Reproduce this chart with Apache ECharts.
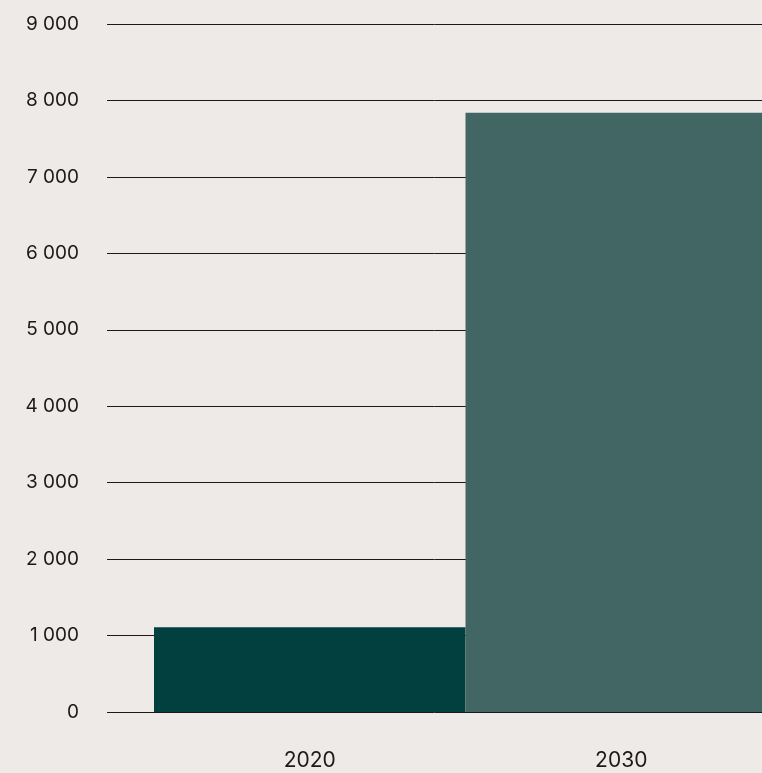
<!DOCTYPE html>
<html>
<head>
<meta charset="utf-8">
<script src="https://cdn.jsdelivr.net/npm/echarts@6/dist/echarts.min.js"></script>
<style>
    html, body { margin: 0; padding: 0; background: #eeeae8; overflow: hidden; }
    /* the chart is a bit wider than the window so the 2030 bar gets cut at the edge */
    #chart { width: 777px; height: 773px; }
</style>
</head>
<body>
<div id="chart"></div>
<script>
    let years = ['2020', '2030'];
    let values = [1110, 7840];
    let barColors = ['#02403f', '#426663'];
    let yMax = 9000;
    let yStep = 1000;

    let myChart = echarts.init(document.getElementById('chart'));

    let fmt = function (v) {
        return String(v).replace(/\B(?=(\d{3})+(?!\d))/g, ' ');
    };

    let option = {
        backgroundColor: '#eeeae8',
        animation: false,
        textStyle: { fontFamily: 'Inter' },
        grid: [
            { left: 107, right: 15, top: 24, bottom: 61 },
            { left: 154, right: 0, top: 24, bottom: 61 }
        ],
        xAxis: [{
            gridIndex: 0,
            type: 'category',
            data: years,
            show: false
        }, {
            gridIndex: 1,
            type: 'category',
            data: years,
            axisLine: { show: false },
            axisTick: { show: false },
            axisLabel: {
                color: '#1a1a1a',
                fontSize: 21,
                margin: 38
            }
        }],
        yAxis: [{
            gridIndex: 0,
            type: 'value',
            min: 0,
            max: yMax,
            interval: yStep,
            axisLine: { show: false },
            axisTick: { show: false },
            axisLabel: {
                color: '#1a1a1a',
                fontSize: 19,
                margin: 28,
                formatter: fmt
            },
            splitLine: {
                lineStyle: { color: '#1a1a1a', width: 1 }
            }
        }, {
            gridIndex: 1,
            type: 'value',
            min: 0,
            max: yMax,
            interval: yStep,
            show: false,
            splitLine: { show: false }
        }],
        series: [{
            type: 'bar',
            xAxisIndex: 1,
            yAxisIndex: 1,
            barWidth: '100%',
            data: values.map(function (v, i) {
                return { value: v, itemStyle: { color: barColors[i] } };
            })
        }]
    };
    myChart.setOption(option);
</script>
</body>
</html>
